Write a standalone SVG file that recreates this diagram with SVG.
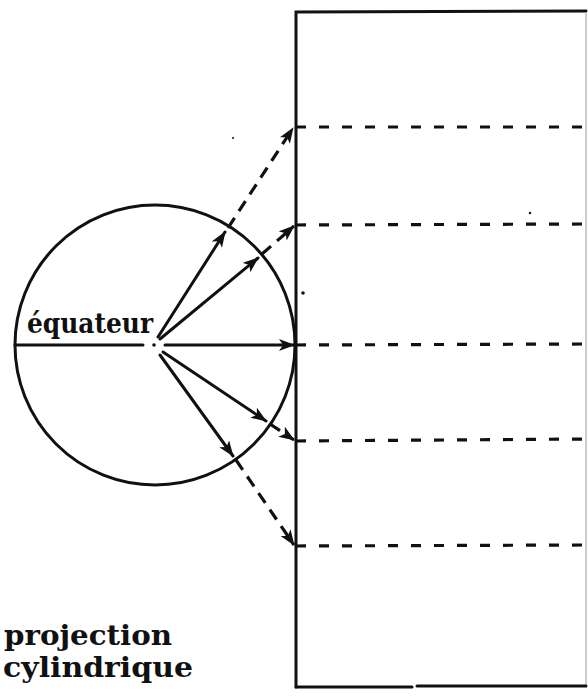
<svg xmlns="http://www.w3.org/2000/svg" width="588" height="700" viewBox="0 0 588 700">
<style>
.ln{stroke:#111;stroke-width:3;fill:none;stroke-linecap:round}
.dh{stroke:#111;stroke-width:3.2;fill:none;stroke-dasharray:10 13}
.dd{stroke:#111;stroke-width:3.2;fill:none;stroke-dasharray:12 8}
.lbl{font-family:"DejaVu Serif","Liberation Serif",serif;font-weight:bold;fill:#111}
</style>
<defs>
<marker id="ah" markerUnits="userSpaceOnUse" markerWidth="18" markerHeight="14" refX="15" refY="6" orient="auto">
<path d="M0,0 L16,6 L0,12 L4,6 z" fill="#111"/>
</marker>
</defs>
<rect width="588" height="700" fill="#fff"/>
<g id="cylinder">
<path class="ln" d="M296,687 L296,12 L586,11" stroke-width="3.4"/>
<path d="M586,12 L586,687" stroke="#999" stroke-width="1" fill="none"/>
<path class="ln" d="M296,687 L412,687 M417,686 L586,686" stroke-width="3.4"/>
</g>
<g id="globe">
<circle cx="155" cy="345" r="140" class="ln" stroke-width="3.4"/>
<circle cx="154" cy="345" r="1.8" fill="#111"/>
</g>
<g id="label-equateur">
<text class="lbl" x="27" y="333" font-size="28" textLength="126" lengthAdjust="spacingAndGlyphs">équateur</text>
</g>
<g id="label-projection">
<text class="lbl" x="4" y="645" font-size="28" textLength="168" lengthAdjust="spacingAndGlyphs">projection</text>
<text class="lbl" x="3" y="677" font-size="28" textLength="190" lengthAdjust="spacingAndGlyphs">cylindrique</text>
</g>
<g id="connectors">
<line class="ln" x1="15" y1="345" x2="143" y2="345"/>
<line class="ln" x1="165" y1="345" x2="294" y2="345" marker-end="url(#ah)"/>
<line class="ln" x1="158" y1="337" x2="225" y2="232" marker-end="url(#ah)"/>
<line class="ln" x1="160" y1="339" x2="258" y2="258" marker-end="url(#ah)"/>
<line class="ln" x1="163" y1="352" x2="266" y2="421" marker-end="url(#ah)"/>
<line class="ln" x1="160" y1="355" x2="233" y2="456" marker-end="url(#ah)"/>
<line class="dd" x1="228" y1="228" x2="293" y2="128" marker-end="url(#ah)"/>
<line class="dd" x1="262" y1="254" x2="294" y2="226" marker-end="url(#ah)"/>
<line class="dd" x1="270" y1="424" x2="294" y2="440" marker-end="url(#ah)"/>
<line class="dd" x1="236" y1="460" x2="294" y2="545" marker-end="url(#ah)"/>
<line class="dh" x1="296" y1="127" x2="586" y2="127"/>
<line class="dh" x1="296" y1="225" x2="586" y2="224"/>
<line class="dh" x1="296" y1="345" x2="586" y2="344"/>
<line class="dh" x1="296" y1="441" x2="586" y2="439"/>
<line class="dh" x1="296" y1="546" x2="586" y2="545"/>
</g>
<g id="specks" fill="#111">
<circle cx="303" cy="293" r="1.8"/>
<circle cx="233" cy="138" r="1"/>
<circle cx="530" cy="213" r="1.2"/>
</g>
</svg>
